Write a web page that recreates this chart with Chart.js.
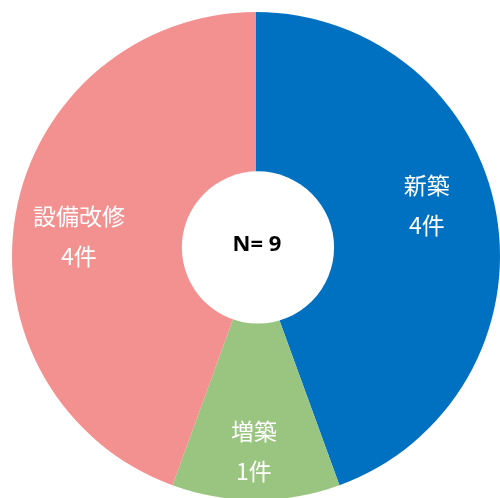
<!DOCTYPE html>
<html>
<head>
<meta charset="utf-8">
<script src="https://cdn.jsdelivr.net/npm/chart.js@4"></script>
<style>
  html, body { margin: 0; padding: 0; background: #fff; overflow: hidden; }
  #wrap { position: relative; width: 500px; height: 500px; }
</style>
</head>
<body>
<div id="wrap"><canvas id="chart"></canvas></div>
<script>
// ─── DATA ─────────────────────────────────────────────────────────────────────
const categories = ["新築", "増築", "設備改修"];
const counts     = [4, 1, 4];
const colors     = ["#0070C0", "#9AC580", "#F29190"];
const centerText = "N= 9";

// label placement: fraction of outer radius + small angle nudge (degrees)
const LABEL_STYLE = [
  { r: 0.73, da: -6.5 },
  { r: 0.80, da:  0.6 },
  { r: 0.73, da: -3.6 },
];

const LABEL_FONT = '23px "Noto Sans CJK JP", sans-serif';

// ─── PLUGIN: hole + labels ────────────────────────────────────────────────────
const overlay = {
  id: "overlay",
  afterDatasetsDraw(chart) {
    const ctx = chart.ctx;
    const meta = chart.getDatasetMeta(0);
    const first = meta.data[0];
    const cx = first.x, cy = first.y, R = first.outerRadius;

    // slice labels
    ctx.save();
    ctx.fillStyle = "#fff";
    ctx.font = LABEL_FONT;
    ctx.textAlign = "center";
    ctx.textBaseline = "middle";
    meta.data.forEach((arc, i) => {
      const mid = (arc.startAngle + arc.endAngle) / 2 + LABEL_STYLE[i].da * Math.PI / 180;
      const rr = R * LABEL_STYLE[i].r;
      const x = cx + rr * Math.cos(mid);
      const y = cy + rr * Math.sin(mid);
      ctx.fillText(categories[i], x, y - 20);
      ctx.fillText(counts[i] + "件", x, y + 20);
    });
    ctx.restore();

    // white centre disc (sits a little above the pie centre, like the original)
    ctx.save();
    ctx.fillStyle = "#fff";
    ctx.beginPath();
    ctx.arc(cx + R * 0.008, cy - R * 0.035, R * 0.312, 0, Math.PI * 2);
    ctx.fill();
    ctx.fillStyle = "#000";
    ctx.font = 'bold 22px "Noto Sans", sans-serif';
    ctx.textAlign = "center";
    ctx.textBaseline = "middle";
    ctx.fillText(centerText, cx + 1, cy - 11);
    ctx.restore();
  }
};

// ─── CHART ────────────────────────────────────────────────────────────────────
new Chart(document.getElementById("chart"), {
  type: "pie",
  data: {
    labels: categories,
    datasets: [{
      data: counts,
      backgroundColor: colors,
      borderWidth: 0,
    }]
  },
  options: {
    responsive: true,
    maintainAspectRatio: false,
    animation: false,
    layout: { padding: { left: 12, top: 12, right: 0, bottom: 0 } },
    plugins: {
      legend: { display: false },
      tooltip: { enabled: false },
    }
  },
  plugins: [overlay]
});
</script>
</body>
</html>
